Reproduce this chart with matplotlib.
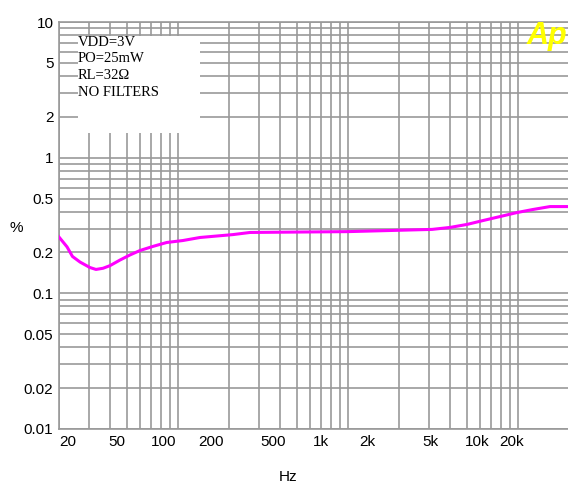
import numpy as np
import matplotlib
matplotlib.use('Agg')
import matplotlib.pyplot as plt
from matplotlib.patches import Rectangle

# THD+N vs frequency
FREQ = [20, 22.3, 24, 26.6, 30.4, 33, 36.3, 39.9, 45.7, 52.4, 60, 71.6, 86,
        107, 135, 211, 266, 1000, 3130, 3990, 5025, 6240, 7850, 9890,
        12280, 15450, 20000]
THD = [0.26, 0.22, 0.187, 0.17, 0.155, 0.15, 0.153, 0.16, 0.176, 0.192,
       0.207, 0.222, 0.237, 0.245, 0.258, 0.271, 0.281, 0.285, 0.296, 0.306,
       0.322, 0.344, 0.368, 0.394, 0.415, 0.436, 0.436]

Y_TICKS = [0.01, 0.02, 0.05, 0.1, 0.2, 0.5, 1, 2, 5, 10]
Y_LABELS = ['0.01', '0.02', '0.05', '0.1', '0.2', '0.5', '1', '2', '5', '10']
X_TICKS = [20, 50, 100, 200, 500, 1000, 2000, 5000, 10000, 20000]
X_LABELS = ['20', '50', '100', '200', '500', '1k', '2k', '5k', '10k', '20k']
NOTES = ['VDD=3V', 'PO=25mW', 'RL=32\u03a9', 'NO FILTERS']

GRID = '#999999'
W, H = 568, 490


def fwd(x):
    # label scale is a bit narrower than the grid scale
    x = np.asarray(x, dtype=float)
    return 10 ** ((170 * np.log10(np.clip(x, 1e-9, None)) - 13.2) / 156.5)


def inv(l):
    l = np.asarray(l, dtype=float)
    return 10 ** ((156.5 * np.log10(np.clip(l, 1e-9, None)) + 13.2) / 170)


def main():
    fig = plt.figure(figsize=(W / 100, H / 100), dpi=100)
    ax = fig.add_axes([59 / W, 1 - 429 / H, 510 / W, 407 / H])
    ax.set_xscale('log')
    ax.set_yscale('log')
    ax.set_xlim(20, 20000)
    ax.set_ylim(0.01, 10)

    ax.grid(True, which='both', color=GRID, linewidth=1.2)
    for s in ax.spines.values():
        s.set_color(GRID)
        s.set_linewidth(1.2)

    ax.set_yticks(Y_TICKS)
    ax.set_yticklabels(Y_LABELS, fontsize=11, family='Liberation Sans')
    ax.set_xticks(X_TICKS)
    ax.set_xticklabels([])
    ax.tick_params(which='both', length=0, pad=4)

    # first label sits at the left edge of the plot
    sec_ticks = [float(fwd(X_TICKS[0]))] + X_TICKS[1:]
    sec = ax.secondary_xaxis('bottom', functions=(fwd, inv))
    sec.set_xticks(sec_ticks)
    sec.set_xticklabels(X_LABELS, fontsize=11, family='Liberation Sans')
    sec.tick_params(which='both', length=0, pad=4)
    sec.spines['bottom'].set_visible(False)
    labs = sec.get_xticklabels()
    labs[0].set_ha('left')
    labs[-1].set_ha('right')

    ax.plot(FREQ, THD, color='#ff00ff', linewidth=2.2, zorder=4)

    # white note box over the grid
    ax.add_patch(Rectangle((19 / 510, (429 - 133) / 407), 122 / 510, 97 / 407,
                           transform=ax.transAxes, facecolor='white',
                           edgecolor='none', zorder=2))
    for i, t in enumerate(NOTES):
        ax.text(19 / 510, (429 - 42 - i * 16.7) / 407, t, transform=ax.transAxes,
                fontsize=10.5, family='Liberation Serif', va='center',
                ha='left', zorder=3)

    fig.text(527 / W, 1 - 21 / H, 'Ap', color='#ffff00', fontsize=22,
             fontweight='bold', style='italic', family='Liberation Sans',
             ha='left', va='top')
    fig.text(288 / W, 1 - 477 / H, 'Hz', fontsize=11, family='Liberation Sans',
             ha='center', va='center')
    fig.text(16 / W, 1 - 228 / H, '%', fontsize=11, family='Liberation Sans',
             ha='center', va='center')

    fig.savefig('out.png', dpi=100)
    return 0


if __name__ == '__main__':
    main()
